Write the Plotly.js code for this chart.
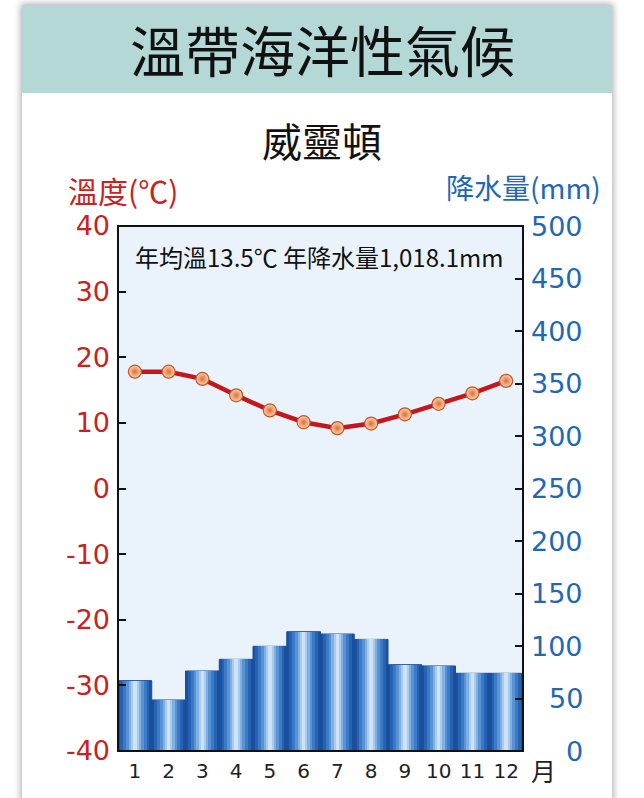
<!DOCTYPE html>
<html>
<head>
<meta charset="utf-8">
<script src="https://cdn.plot.ly/plotly-3.0.1.min.js"></script>
<style>
html,body{margin:0;padding:0;background:#ffffff;width:644px;height:798px;overflow:hidden;}
#card{position:absolute;left:22px;top:5px;width:590px;height:820px;background:#ffffff;box-shadow:0 0 7px 1px rgba(0,0,0,0.35);}
#band{position:absolute;left:22px;top:5px;width:590px;height:88px;background:#b3d8d6;}
#chart{position:absolute;left:0;top:0;width:644px;height:798px;}
</style>
</head>
<body>
<div id="card"></div>
<div id="band"></div>
<div id="chart"></div>
<script>
const months = ['1','2','3','4','5','6','7','8','9','10','11','12'];
const temperature = [17.8, 17.8, 16.7, 14.2, 11.9, 10.1, 9.2, 9.9, 11.3, 12.9, 14.5, 16.4];
const precipitation = [67, 48.6, 76.2, 87.3, 99.7, 113.6, 111.4, 106.3, 82.2, 81, 74, 74];
const tempTicks = [-40, -30, -20, -10, 0, 10, 20, 30, 40];
const tempTickText = ['-40', '-30', '-20', '-10', '0', '10', '20', '30', '40'];
const precTicks = [0, 50, 100, 150, 200, 250, 300, 350, 400, 450, 500];
const precTickText = ['0', '50', '100', '150', '200', '250', '300', '350', '400', '450', '500'];
const mainTitle = '溫帶海洋性氣候';
const cityName = '威靈頓';
const tempAxisTitle = '溫度(℃)';
const precAxisTitle = '降水量(mm)';
const monthUnit = '月';
const summary = '年均溫13.5℃ 年降水量1,018.1mm';

const RED = '#c8231e';
const BLUE = '#1f68b4';
const CJK = '"Noto Sans CJK TC", "Noto Sans", sans-serif';
const NUM = '"DejaVu Sans", "Liberation Sans", sans-serif';

// cylinder-like shading via overlaid bars of decreasing width
const barLayers = [
  {w: 1.0, c: '#1a509f'},
  {w: 0.86, c: '#2763b3'},
  {w: 0.7, c: '#3b7ac6'},
  {w: 0.52, c: '#5a93d4'},
  {w: 0.36, c: '#80afe2'},
  {w: 0.22, c: '#a9cbee'},
  {w: 0.1, c: '#cfe2f7'}
];
const traces = barLayers.map((L, i) => ({
  type: 'bar', x: months, y: precipitation, yaxis: 'y', width: L.w,
  marker: {color: L.c, line: {width: i === 0 ? 1 : 0, color: '#184d98'}},
  hoverinfo: 'skip', showlegend: false
}));
traces.push({
  type: 'scatter', mode: 'lines+markers', x: months, y: temperature, yaxis: 'y2',
  line: {color: '#c4161c', width: 4.5},
  marker: {size: 13, color: '#fcd6b4', line: {color: '#c85426', width: 1.2},
           gradient: {type: 'radial', color: '#e46c36'}},
  showlegend: false
});

// right-axis labels, right-aligned, placed on the precipitation scale
const precLabels = precTicks.map((v, i) => ({
  text: precTickText[i], xref: 'paper', yref: 'y', x: 1.153, y: v, showarrow: false,
  xanchor: 'right', yanchor: 'middle', font: {family: NUM, size: 27, color: BLUE}
}));

const layout = {
  width: 644, height: 798,
  margin: {l: 118, r: 121, t: 226, b: 47},
  paper_bgcolor: 'rgba(0,0,0,0)',
  plot_bgcolor: '#eaf3fb',
  barmode: 'overlay',
  bargap: 0,
  showlegend: false,
  xaxis: {
    type: 'category', range: [-0.5, 11.5], showgrid: false, zeroline: false,
    ticks: '', tickfont: {family: NUM, size: 20, color: '#222'}, ticklabelstandoff: 6
  },
  yaxis: {
    side: 'right', range: [0, 500], tickvals: precTicks, showticklabels: false,
    showgrid: false, zeroline: false,
    ticks: 'inside', ticklen: 8, tickwidth: 2, tickcolor: '#111'
  },
  yaxis2: {
    side: 'left', overlaying: 'y', range: [-40, 40], tickvals: tempTicks, ticktext: tempTickText,
    showgrid: false, zeroline: false,
    ticks: 'inside', ticklen: 8, tickwidth: 2, tickcolor: '#111',
    tickfont: {family: NUM, size: 27, color: RED}, ticklabelstandoff: 7
  },
  shapes: [
    {type: 'rect', xref: 'paper', yref: 'paper', x0: 0, x1: 1, y0: 0, y1: 1,
     line: {color: '#111', width: 2}, layer: 'above'}
  ],
  annotations: [
    {text: mainTitle, xref: 'paper', yref: 'paper', x: 0.504, y: 1.339, showarrow: false,
     xanchor: 'center', yanchor: 'middle', font: {family: CJK, size: 55, color: '#111'}},
    {text: cityName, xref: 'paper', yref: 'paper', x: 0.504, y: 1.164, showarrow: false,
     xanchor: 'center', yanchor: 'middle', font: {family: CJK, size: 40, color: '#111'}},
    {text: tempAxisTitle, xref: 'paper', yref: 'paper', x: 0.012, y: 1.069, showarrow: false,
     xanchor: 'center', yanchor: 'middle', font: {family: CJK, size: 30, color: RED}},
    {text: precAxisTitle, xref: 'paper', yref: 'paper', x: 1.0, y: 1.074, showarrow: false,
     xanchor: 'center', yanchor: 'middle', font: {family: CJK, size: 28, color: BLUE}},
    {text: summary, xref: 'paper', yref: 'paper', x: 0.037, y: 0.941, showarrow: false,
     xanchor: 'left', yanchor: 'middle', font: {family: CJK, size: 24, color: '#111'}},
    {text: monthUnit, xref: 'paper', yref: 'paper', x: 1.05, y: -0.036, showarrow: false,
     xanchor: 'center', yanchor: 'middle', font: {family: CJK, size: 25, color: '#222'}}
  ].concat(precLabels)
};
Plotly.newPlot('chart', traces, layout, {displayModeBar: false, staticPlot: true});
</script>
</body>
</html>
